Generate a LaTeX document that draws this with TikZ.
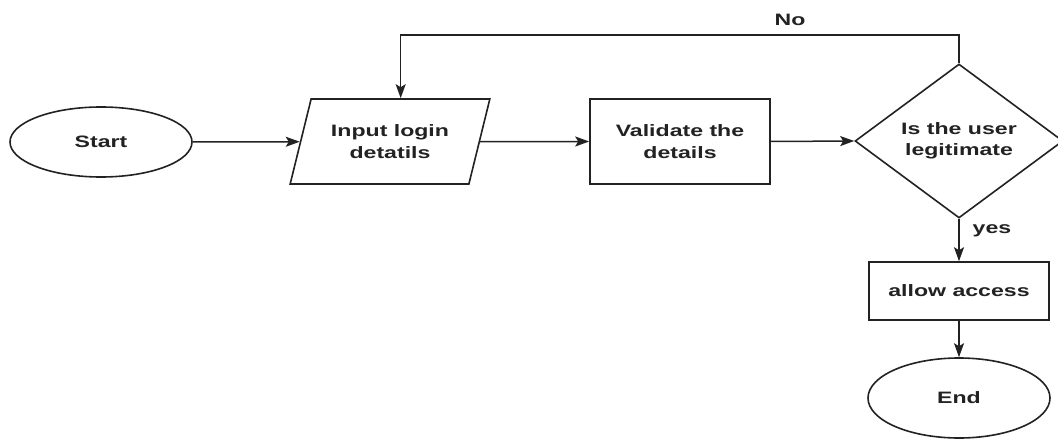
\documentclass[tikz,border=0pt]{standalone}
\usepackage{fontspec}
\setmainfont{Liberation Sans}
\usetikzlibrary{shapes.geometric,arrows.meta}
\newcommand{\sx}[1]{\scalebox{1.4}[1]{#1}}
\definecolor{ln}{HTML}{222222}
\begin{document}
\begin{tikzpicture}[x=1pt,y=-1pt,
  base/.style={draw=ln, line width=1.6pt, inner sep=0pt, align=center,
    font=\fontsize{16.5}{21.5}\selectfont\bfseries, text=ln},
  term/.style={base, ellipse},
  iobox/.style={base, trapezium, trapezium left angle=65, trapezium right angle=115,
    trapezium stretches=true},
  procbox/.style={base, rectangle},
  decbox/.style={base, diamond},
  lbl/.style={font=\fontsize{16.5}{21.5}\selectfont\bfseries, text=ln, inner sep=0pt},
  arr/.style={draw=ln, line width=1.5pt, -{Stealth[length=14pt,width=10pt,inset=3pt]}}
]
\useasboundingbox (0,0) rectangle (1058,444);
\fill[white] (0,0) rectangle (1058,444);

\node[term, minimum width=182pt, minimum height=70pt] (start) at (101,142) {\sx{Start}};
\node[iobox, minimum width=200pt, minimum height=85pt] (inp) at (390,141.5) {\sx{Input login}\\\sx{detatils}};
\node[procbox, minimum width=180pt, minimum height=85pt] (val) at (680,141.5) {\sx{Validate the}\\\sx{details}};
\node[decbox, minimum width=208pt, minimum height=154pt] (dec) at (959,141) {\sx{Is the user}\\\sx{legitimate}};
\node[procbox, minimum width=180pt, minimum height=58pt] (acc) at (959,291) {\sx{allow access}};
\node[term, minimum width=182pt, minimum height=80pt] (end) at (959,398) {\sx{End}};

\node[lbl] (no) at (790,20) {\sx{No}};
\node[lbl] (yes) at (992,231) {\sx{yes}};

\coordinate (lp) at (959,35);

\draw[arr] (start.east) -- (inp);
\draw[arr] (inp) -- (val.west);
\draw[arr] (val.east) -- (dec.west);
\draw[arr] (dec.north) -- (lp) -| (inp.top side);
\draw[arr] (dec.south) -- (acc.north);
\draw[arr] (acc.south) -- (end.north);
\end{tikzpicture}
\end{document}
